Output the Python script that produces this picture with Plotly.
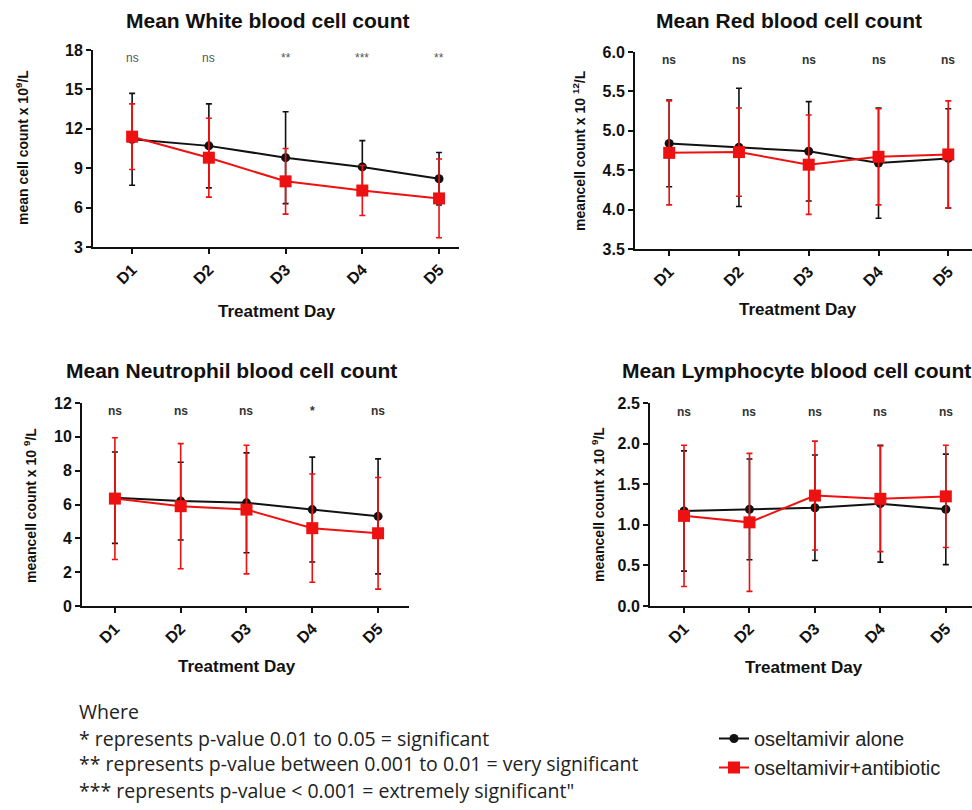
import plotly.graph_objects as go

# ---------------- data ----------------
categories = ["D1", "D2", "D3", "D4", "D5"]

wbc_alone = [11.2, 10.7, 9.8, 9.1, 8.2]
wbc_alone_sd = [3.5, 3.2, 3.5, 2.0, 2.0]
wbc_abx = [11.4, 9.8, 8.0, 7.3, 6.7]
wbc_abx_sd = [2.5, 3.0, 2.5, 1.9, 3.0]
wbc_sig = ["ns", "ns", "**", "***", "**"]

rbc_alone = [4.84, 4.79, 4.74, 4.59, 4.65]
rbc_alone_sd = [0.55, 0.75, 0.63, 0.70, 0.63]
rbc_abx = [4.72, 4.73, 4.57, 4.67, 4.70]
rbc_abx_sd = [0.66, 0.56, 0.63, 0.61, 0.68]
rbc_sig = ["ns", "ns", "ns", "ns", "ns"]

neu_alone = [6.4, 6.2, 6.1, 5.7, 5.3]
neu_alone_sd = [2.7, 2.3, 2.95, 3.1, 3.4]
neu_abx = [6.35, 5.9, 5.7, 4.6, 4.3]
neu_abx_sd = [3.6, 3.7, 3.8, 3.2, 3.3]
neu_sig = ["ns", "ns", "ns", "*", "ns"]

lym_alone = [1.17, 1.19, 1.21, 1.26, 1.19]
lym_alone_sd = [0.74, 0.62, 0.65, 0.72, 0.68]
lym_abx = [1.11, 1.03, 1.36, 1.32, 1.35]
lym_abx_sd = [0.87, 0.85, 0.67, 0.65, 0.63]
lym_sig = ["ns", "ns", "ns", "ns", "ns"]

series_names = ["oseltamivir alone", "oseltamivir+antibiotic"]
titles = ["Mean White blood cell count", "Mean Red blood cell count",
          "Mean Neutrophil blood cell count", "Mean Lymphocyte blood cell count"]
ytitles = ["mean cell count x 10<sup>9</sup>/L", "meancell count x 10 <sup>12</sup>/L",
           "meancell count x 10 <sup>9</sup>/L", "meancell count x 10 <sup>9</sup>/L"]
xtitle = "Treatment Day"
footnotes = ["Where",
             "* represents p-value 0.01 to 0.05 = significant",
             "** represents p-value between 0.001 to 0.01 = very significant",
             "*** represents p-value < 0.001 = extremely significant\""]

# ---------------- layout helpers ----------------
W, H = 972, 810
FONT = "Liberation Sans, Arial, sans-serif"
BLACK = "#111111"
RED = "#ee1111"

def px(x):
    return x / W

def py(y):
    return 1 - y / H

panels = [
    dict(data=(wbc_alone, wbc_alone_sd, wbc_abx, wbc_abx_sd, wbc_sig),
         xdom=(93, 459), ydom=(50, 247), xr=[-0.51, 4.26], yr=[3, 18], dtick=3, fmt="d",
         title=(268, 20), ytit=(22, 148), xtit=(277, 311), sigoff=0.6, sigbold=False),
    dict(data=(rbc_alone, rbc_alone_sd, rbc_abx, rbc_abx_sd, rbc_sig),
         xdom=(635, 972), ydom=(52, 249), xr=[-0.49, 4.34], yr=[3.5, 6.0], dtick=0.5, fmt=".1f",
         title=(789, 20), ytit=(579, 151), xtit=(798, 309), sigoff=0.1, sigbold=True),
    dict(data=(neu_alone, neu_alone_sd, neu_abx, neu_abx_sd, neu_sig),
         xdom=(82, 409), ydom=(403, 606), xr=[-0.5, 4.47], yr=[0, 12], dtick=2, fmt="d",
         title=(231, 370), ytit=(30, 506), xtit=(237, 666), sigoff=0.5, sigbold=True),
    dict(data=(lym_alone, lym_alone_sd, lym_abx, lym_abx_sd, lym_sig),
         xdom=(650, 972), ydom=(403, 606), xr=[-0.52, 4.4], yr=[0, 2.5], dtick=0.5, fmt=".1f",
         title=(796, 370), ytit=(598, 505), xtit=(804, 667), sigoff=0.11, sigbold=True),
]

fig = go.Figure()
annotations = []
layout_axes = {}

for i, p in enumerate(panels):
    n = i + 1
    xa = "x" if n == 1 else f"x{n}"
    ya = "y" if n == 1 else f"y{n}"
    alone, alone_sd, abx, abx_sd, sig = p["data"]

    fig.add_trace(go.Scatter(
        x=categories, y=alone, xaxis=xa, yaxis=ya, name=series_names[0],
        mode="lines+markers", showlegend=(n == 1), legendgroup="a",
        line=dict(color=BLACK, width=2),
        marker=dict(color=BLACK, size=9, symbol="circle"),
        error_y=dict(type="data", array=alone_sd, color=BLACK, thickness=1.6, width=3),
    ))
    fig.add_trace(go.Scatter(
        x=categories, y=abx, xaxis=xa, yaxis=ya, name=series_names[1],
        mode="lines+markers", showlegend=(n == 1), legendgroup="b",
        line=dict(color=RED, width=2),
        marker=dict(color=RED, size=12, symbol="square"),
        error_y=dict(type="data", array=abx_sd, color=RED, thickness=1.6, width=3),
    ))

    axis_common = dict(showline=True, linecolor=BLACK, linewidth=2, showgrid=False,
                       zeroline=False, ticks="outside", ticklen=5, tickwidth=2,
                       tickcolor=BLACK, automargin=False)
    layout_axes["xaxis" if n == 1 else f"xaxis{n}"] = dict(
        axis_common, domain=[px(p["xdom"][0]), px(p["xdom"][1])], range=p["xr"],
        type="category", anchor=ya, tickangle=-45,
        tickfont=dict(family=FONT, size=16, color=BLACK, weight="bold"))
    layout_axes["yaxis" if n == 1 else f"yaxis{n}"] = dict(
        axis_common, domain=[py(p["ydom"][1]), py(p["ydom"][0])], range=p["yr"],
        dtick=p["dtick"], tick0=p["yr"][0], tickformat=p["fmt"], anchor=xa,
        tickfont=dict(family=FONT, size=16, color=BLACK, weight="bold"))

    # significance marks
    for c, s in zip(categories, sig):
        annotations.append(dict(x=c, y=p["yr"][1] - p["sigoff"], xref=xa, yref=ya,
                                text=s, showarrow=False,
                                font=dict(family=FONT, size=12,
                                          color="#333333" if p["sigbold"] else "#555555",
                                          weight="bold" if p["sigbold"] else "normal")))
    # panel title
    annotations.append(dict(x=px(p["title"][0]), y=py(p["title"][1]), xref="paper", yref="paper",
                            text=titles[i], showarrow=False, xanchor="center", yanchor="middle",
                            font=dict(family=FONT, size=21, color=BLACK, weight="bold")))
    # y title
    annotations.append(dict(x=px(p["ytit"][0]), y=py(p["ytit"][1]), xref="paper", yref="paper",
                            text=ytitles[i], showarrow=False, textangle=-90,
                            xanchor="center", yanchor="middle",
                            font=dict(family=FONT, size=14, color=BLACK, weight="bold")))
    # x title
    annotations.append(dict(x=px(p["xtit"][0]), y=py(p["xtit"][1]), xref="paper", yref="paper",
                            text=xtitle, showarrow=False, xanchor="center", yanchor="middle",
                            font=dict(family=FONT, size=17, color=BLACK, weight="bold")))

# footnotes
for t, yy in zip(footnotes, [711, 738, 763, 790]):
    annotations.append(dict(x=px(77), y=py(yy), xref="paper", yref="paper", text=t,
                            showarrow=False, xanchor="left", yanchor="middle",
                            font=dict(family="Open Sans, sans-serif", size=19.5, color="#222222")))

fig.update_layout(
    template="none",
    width=W, height=H,
    margin=dict(l=0, r=0, t=0, b=0, pad=0, autoexpand=False),
    paper_bgcolor="white", plot_bgcolor="white",
    showlegend=True,
    legend=dict(x=px(714), y=py(719), xanchor="left", yanchor="top",
                font=dict(family=FONT, size=20, color="#222222"),
                bgcolor="rgba(0,0,0,0)", borderwidth=0, itemwidth=30, tracegroupgap=0),
    annotations=annotations,
    **layout_axes,
)

# remove the default 8px page margin so the figure sits at the window origin
fig.write_html("out.html", config={"displayModeBar": False},
               post_script="document.body.style.margin='0px';")
